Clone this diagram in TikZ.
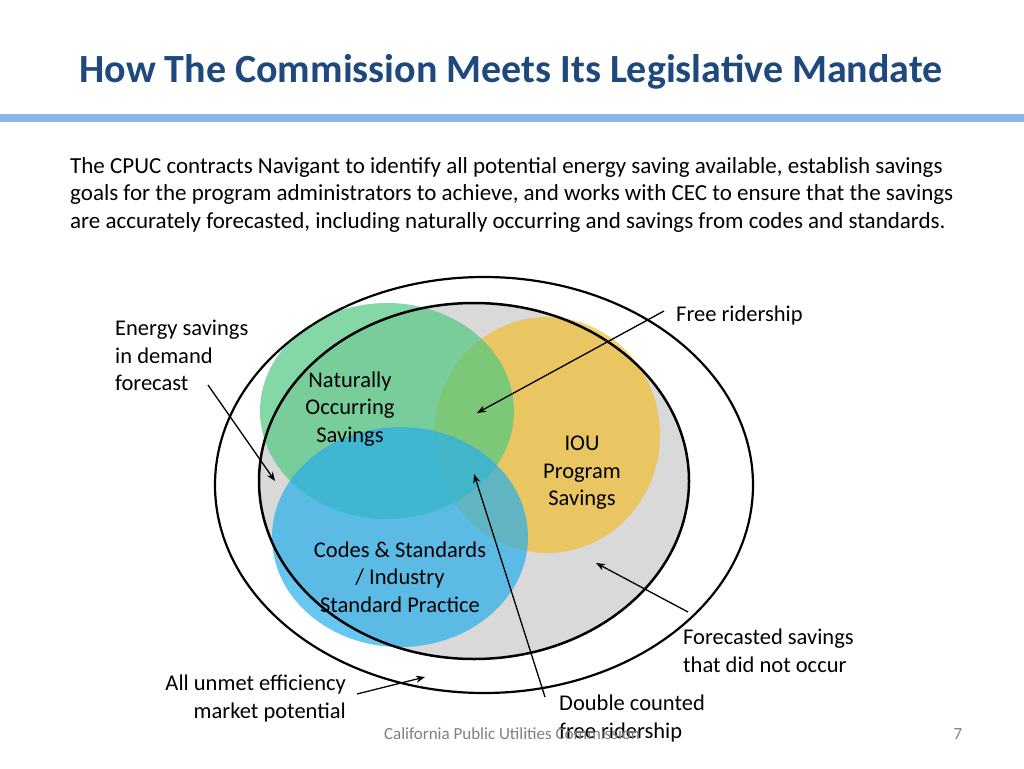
\documentclass[tikz,border=0pt]{standalone}
\usepackage{fontspec}
\setmainfont{Carlito}
\usetikzlibrary{arrows.meta}
\definecolor{titleblue}{RGB}{31,73,125}
\definecolor{barblue}{RGB}{141,180,226}
\definecolor{venngray}{RGB}{217,217,217}
\definecolor{vgreen}{RGB}{80,200,130}
\definecolor{vyellow}{RGB}{242,190,50}
\definecolor{vblue}{RGB}{40,175,235}
\begin{document}
\begin{tikzpicture}[x=1pt,y=-1pt,
  txt/.style={font=\fontsize{22.5}{27.5}\selectfont,align=left,inner sep=0pt},
  arr/.style={-{Stealth[length=9pt,width=7pt]},line width=1.3pt},
  vc/.style={fill opacity=0.7,draw=none}]
\useasboundingbox (0,0) rectangle (1024,768);
\node[font=\fontsize{40}{46}\selectfont\bfseries,text=titleblue] (title) at (511,72) {How The Commission Meets Its Legislative Mandate};
\fill[barblue] (0,114) rectangle (1024,122);
\node[txt,font=\fontsize{23}{27.5}\selectfont,anchor=north west] (para) at (70,157) {The CPUC contracts Navigant to identify all potential energy saving available, establish savings\\goals for the program administrators to achieve, and works with CEC to ensure that the savings\\are accurately forecasted, including naturally occurring and savings from codes and standards.};
\fill[venngray] (474,481) ellipse [x radius=215,y radius=178];
\fill[vc,vyellow] (547,435) ellipse [x radius=113,y radius=118];
\fill[vc,vgreen] (387,411) ellipse [x radius=127,y radius=108];
\fill[vc,vblue] (400,537) ellipse [x radius=128,y radius=110];
\draw[line width=2.5pt] (474,481) ellipse [x radius=215,y radius=178];
\draw[line width=2.2pt] (484,485) ellipse [x radius=269,y radius=208];
\node[txt,align=center] (nat) at (350,409) {Naturally\\Occurring\\Savings};
\node[txt,align=center] (iou) at (582,473) {IOU\\Program\\Savings};
\node[txt,align=center] (cs) at (400,577) {Codes \& Standards\\/ Industry\\Standard Practice};
\node[txt,anchor=north west] (ends) at (115,320) {Energy savings\\in demand\\forecast};
\node[txt,anchor=west] (free) at (676,315) {Free ridership};
\node[txt,anchor=north west] (fore) at (683,629) {Forecasted savings\\that did not occur};
\node[txt,anchor=north east,align=right] (unmet) at (346,675) {All unmet efficiency\\market potential};
\node[txt,anchor=north west] (dbl) at (559,695) {Double counted\\free ridership};
\node[font=\fontsize{17}{19}\selectfont,text=gray] (foot) at (512,734) {California Public Utilities Commission};
\node[font=\fontsize{17}{19}\selectfont,text=gray] (pg) at (958,734) {7};
\coordinate (a1) at (275,481); \coordinate (a2) at (477,413);
\coordinate (a3) at (474,474); \coordinate (a4) at (596,563);
\coordinate (a5) at (425,677);
\draw[arr] (208,385) -- (a1);
\draw[arr] (664,311) -- (a2);
\draw[arr] (545,697) -- (a3);
\draw[arr] (688,612) -- (a4);
\draw[arr] (357,694) -- (a5);
\end{tikzpicture}
\end{document}
